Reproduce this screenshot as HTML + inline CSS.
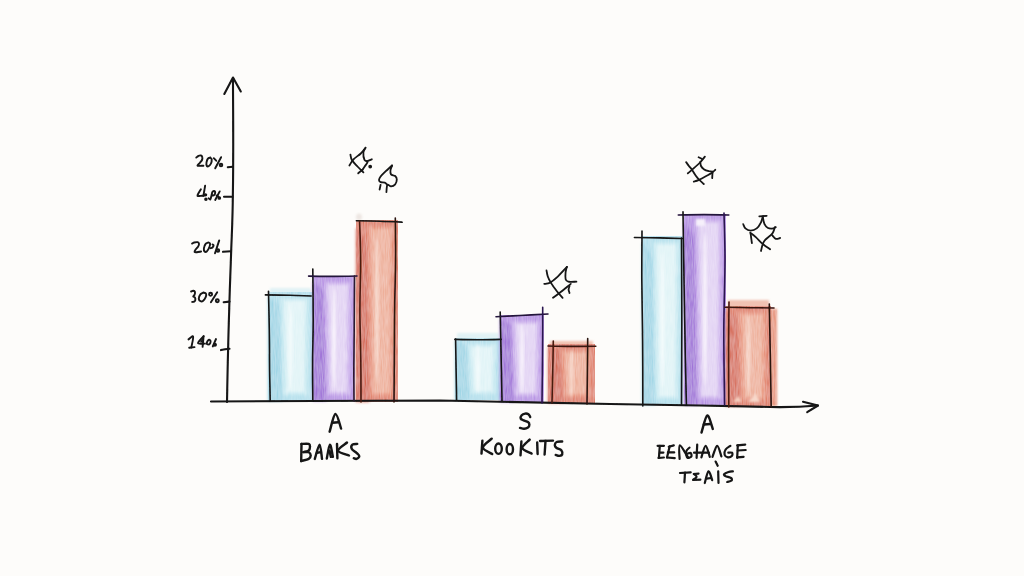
<!DOCTYPE html>
<html><head><meta charset="utf-8">
<style>
html,body{margin:0;padding:0;background:#fdfcfa;}
svg{display:block;}
</style></head>
<body>
<svg width="1024" height="576" viewBox="0 0 1024 576">
<defs>
  <filter id="soft" x="-20%" y="-20%" width="140%" height="140%"><feGaussianBlur stdDeviation="1.0"/></filter>
  <filter id="soft2" x="-50%" y="-10%" width="200%" height="120%"><feGaussianBlur stdDeviation="2.5"/></filter>
  <filter id="soft15" x="-30%" y="-10%" width="160%" height="120%"><feGaussianBlur stdDeviation="1.6"/></filter>
  <filter id="tex" x="-5%" y="-5%" width="110%" height="110%">
    <feTurbulence type="fractalNoise" baseFrequency="0.9 0.08" numOctaves="2" seed="3" result="n"/>
    <feColorMatrix in="n" type="matrix" values="0 0 0 0 1  0 0 0 0 1  0 0 0 0 1  0 0 0 0.35 0" result="nw"/>
    <feComposite in="nw" in2="SourceAlpha" operator="in" result="nm"/>
    <feMerge><feMergeNode in="SourceGraphic"/><feMergeNode in="nm"/></feMerge>
    <feGaussianBlur stdDeviation="0.5"/>
  </filter>
  <filter id="inkblur" x="-10%" y="-10%" width="120%" height="120%"><feGaussianBlur stdDeviation="0.35"/></filter>
</defs>
<rect width="1024" height="576" fill="#fdfcfa"/>

<g id="fills">
<rect x="270.0" y="288.0" width="41.0" height="8.0" fill="#c6e9f1" opacity="0.5" filter="url(#soft)"/>
<g filter="url(#tex)">
<rect x="268.0" y="292.0" width="45.0" height="109.0" fill="#aadcea"/>
<polygon points="268.0,296.4 279.7,305.1 282.4,401.0 268.0,401.0" fill="#98d3e4" filter="url(#soft15)"/>
<polygon points="280.6,298.0 308.5,298.0 307.6,395.0 283.3,395.0" fill="#c6e9f1" filter="url(#soft15)"/>
<polygon points="284.2,301.0 304.9,301.0 304.0,392.0 286.9,392.0" fill="#def3f6" filter="url(#soft)"/>
<ellipse cx="290.5" cy="346.5" rx="2.0" ry="43.6" fill="#eff9fa" filter="url(#soft)"/>
</g>
<g filter="url(#tex)">
<rect x="313.0" y="276.0" width="42.0" height="125.0" fill="#b085e1"/>
<polygon points="313.0,281.0 323.9,291.0 326.4,401.0 313.0,401.0" fill="#9864d5" filter="url(#soft15)"/>
<polygon points="324.8,282.0 350.8,282.0 350.0,395.0 327.3,395.0" fill="#cbaeec" filter="url(#soft15)"/>
<polygon points="328.1,285.0 347.4,285.0 346.6,392.0 330.6,392.0" fill="#e0cff3" filter="url(#soft)"/>
<ellipse cx="334.0" cy="338.5" rx="2.0" ry="50.0" fill="#f4ecfa" filter="url(#soft)"/>
</g>
<g filter="url(#tex)">
<rect x="356.0" y="220.0" width="42.0" height="182.0" fill="#dc6a4b"/>
<polygon points="356.0,227.3 366.9,241.8 369.4,402.0 356.0,402.0" fill="#d45a3c" filter="url(#soft15)"/>
<polygon points="367.8,226.0 393.8,226.0 393.0,396.0 370.3,396.0" fill="#e68a6c" filter="url(#soft15)"/>
<polygon points="371.1,229.0 390.4,229.0 389.6,393.0 373.6,393.0" fill="#eda88f" filter="url(#soft)"/>
<ellipse cx="377.0" cy="311.0" rx="2.0" ry="72.8" fill="#f5cdbd" filter="url(#soft)"/>
</g>
<rect x="457.0" y="333.0" width="42.0" height="9.0" fill="#c6e9f1" opacity="0.5" filter="url(#soft)"/>
<g filter="url(#tex)">
<rect x="455.0" y="338.0" width="46.0" height="62.0" fill="#aadcea"/>
<polygon points="455.0,340.5 467.0,345.4 469.7,400.0 455.0,400.0" fill="#98d3e4" filter="url(#soft15)"/>
<polygon points="467.9,344.0 496.4,344.0 495.5,394.0 470.6,394.0" fill="#c6e9f1" filter="url(#soft15)"/>
<polygon points="471.6,347.0 492.7,347.0 491.8,391.0 474.3,391.0" fill="#def3f6" filter="url(#soft)"/>
<ellipse cx="478.0" cy="369.0" rx="2.0" ry="24.8" fill="#eff9fa" filter="url(#soft)"/>
</g>
<g filter="url(#tex)">
<rect x="500.0" y="315.0" width="44.0" height="87.0" fill="#b085e1"/>
<polygon points="500.0,318.5 511.4,325.4 514.1,402.0 500.0,402.0" fill="#9864d5" filter="url(#soft15)"/>
<polygon points="512.3,321.0 539.6,321.0 538.7,396.0 515.0,396.0" fill="#cbaeec" filter="url(#soft15)"/>
<polygon points="515.8,324.0 536.1,324.0 535.2,393.0 518.5,393.0" fill="#e0cff3" filter="url(#soft)"/>
<ellipse cx="522.0" cy="358.5" rx="2.0" ry="34.8" fill="#f4ecfa" filter="url(#soft)"/>
</g>
<rect x="550.0" y="341.0" width="43.0" height="7.0" fill="#e68a6c" opacity="0.5" filter="url(#soft)"/>
<g filter="url(#tex)">
<rect x="548.0" y="344.0" width="47.0" height="59.0" fill="#dc6a4b"/>
<polygon points="548.0,346.4 560.2,351.1 563.0,403.0 548.0,403.0" fill="#d45a3c" filter="url(#soft15)"/>
<polygon points="561.2,350.0 590.3,350.0 589.4,397.0 564.0,397.0" fill="#e68a6c" filter="url(#soft15)"/>
<polygon points="564.9,353.0 586.5,353.0 585.6,394.0 567.7,394.0" fill="#eda88f" filter="url(#soft)"/>
<ellipse cx="571.5" cy="373.5" rx="2.0" ry="23.6" fill="#f5cdbd" filter="url(#soft)"/>
</g>
<g filter="url(#tex)">
<rect x="642.0" y="236.0" width="41.0" height="169.0" fill="#aadcea"/>
<polygon points="642.0,242.8 652.7,256.3 655.1,405.0 642.0,405.0" fill="#98d3e4" filter="url(#soft15)"/>
<polygon points="653.5,242.0 678.9,242.0 678.1,399.0 655.9,399.0" fill="#c6e9f1" filter="url(#soft15)"/>
<polygon points="656.8,245.0 675.6,245.0 674.8,396.0 659.2,396.0" fill="#def3f6" filter="url(#soft)"/>
<ellipse cx="662.5" cy="320.5" rx="2.0" ry="67.6" fill="#eff9fa" filter="url(#soft)"/>
</g>
<g filter="url(#tex)">
<rect x="684.0" y="214.0" width="42.0" height="191.0" fill="#b085e1"/>
<polygon points="684.0,221.6 694.9,236.9 697.4,405.0 684.0,405.0" fill="#9864d5" filter="url(#soft15)"/>
<polygon points="695.8,220.0 721.8,220.0 721.0,399.0 698.3,399.0" fill="#cbaeec" filter="url(#soft15)"/>
<polygon points="699.1,223.0 718.4,223.0 717.6,396.0 701.6,396.0" fill="#e0cff3" filter="url(#soft)"/>
<ellipse cx="705.0" cy="309.5" rx="2.0" ry="76.4" fill="#f4ecfa" filter="url(#soft)"/>
</g>
<rect x="728.0" y="300.0" width="41.0" height="10.0" fill="#e68a6c" opacity="0.5" filter="url(#soft)"/>
<g filter="url(#tex)">
<rect x="767.0" y="309.0" width="10.0" height="97.0" fill="#e68a6c" filter="url(#soft)"/>
<rect x="726.0" y="306.0" width="45.0" height="100.0" fill="#dc6a4b"/>
<polygon points="726.0,310.0 737.7,318.0 740.4,406.0 726.0,406.0" fill="#d45a3c" filter="url(#soft15)"/>
<polygon points="738.6,312.0 766.5,312.0 765.6,400.0 741.3,400.0" fill="#e68a6c" filter="url(#soft15)"/>
<polygon points="742.2,315.0 762.9,315.0 762.0,397.0 744.9,397.0" fill="#eda88f" filter="url(#soft)"/>
<ellipse cx="748.5" cy="356.0" rx="2.0" ry="40.0" fill="#f5cdbd" filter="url(#soft)"/>
</g>
<rect x="696" y="219" width="9" height="7" fill="#f6f0fb" filter="url(#soft)"/>
<polygon points="748,402 756,393 760,402" fill="#f7d8ca" filter="url(#soft)"/>
<polygon points="733,402 738,396 742,402" fill="#f5cfbf" filter="url(#soft)"/>
<ellipse cx="359" cy="217" rx="3" ry="3.5" fill="#d0c0b8" opacity="0.35" filter="url(#soft)"/>
</g>
<g fill="none" stroke="#141414" stroke-width="2.1" stroke-linecap="round" stroke-linejoin="round" filter="url(#inkblur)">
<path d="M227,402 C228,340 230,280 232,230 S233,120 233,78"/>
<path d="M224.3,94 L233,77.5 L240.8,91.5"/>
<path d="M211,401.5 L440,400.5 L610,404 L700,405.5 L770,407 Q795,407.5 818,405.5"/>
<path d="M803,401.8 L818,405.5 L807.2,412.2"/>
<path d="M227.8,167.2 L232.5,166.7"/>
<path d="M224,196.8 L232.5,196.8"/>
<path d="M223,251.8 L231,251.2"/>
<path d="M223.7,302.2 L229.5,301.6"/>
<path d="M221,350.1 Q225,349 229.5,348.8"/>
</g>
<g fill="none" stroke="#141414" stroke-width="1.6" stroke-linecap="round" stroke-linejoin="round" filter="url(#inkblur)">
<path d="M265.4,294.9 C269.5,295.0 282.4,295.1 290.0,295.3 C297.6,295.5 307.7,295.9 311.2,296.0"/>
<path d="M268.5,291.2 C268.6,297.7 269.1,316.9 269.3,330.0 C269.5,343.1 269.5,358.2 269.6,370.0 C269.8,381.8 270.1,395.8 270.2,401.0"/>
<path d="M312.8,269.0 C312.9,277.5 313.2,304.8 313.2,320.0 C313.2,335.2 312.7,346.5 312.6,360.0 C312.5,373.5 312.8,394.2 312.8,401.0"/>
<path d="M308.6,276.1 C312.2,276.2 321.9,276.4 330.0,276.4 C338.1,276.4 352.5,276.1 357.0,276.0" stroke="#24123a"/>
<path d="M354.5,276.0 C354.4,285.0 354.3,314.3 354.2,330.0 C354.1,345.7 353.8,358.2 353.8,370.0 C353.8,381.8 354.0,395.8 354.0,401.0" stroke="#2a1a30"/>
<path d="M356.4,220.8 C360.3,220.9 372.4,221.0 380.0,221.2 C387.6,221.4 398.5,222.0 402.2,222.2"/>
<path d="M359.6,221.0 C359.8,227.5 360.6,245.2 360.6,260.0 C360.7,274.8 359.9,293.3 359.9,310.0 C359.9,326.7 360.6,344.7 360.8,360.0 C361.0,375.3 361.0,395.0 361.0,402.0" stroke="#4a1a10"/>
<path d="M395.3,218.0 C395.4,225.0 395.7,244.7 395.6,260.0 C395.5,275.3 394.8,293.3 394.6,310.0 C394.4,326.7 394.4,344.7 394.3,360.0 C394.2,375.3 394.1,395.0 394.0,402.0" stroke="#2a1410"/>
<path d="M454.9,339.4 C458.8,339.5 470.3,339.8 478.0,339.8 C485.7,339.8 497.4,339.5 501.2,339.4"/>
<path d="M455.6,339.0 C455.7,344.2 455.9,359.8 456.1,370.0 C456.3,380.2 456.5,395.0 456.6,400.0"/>
<path d="M500.2,312.0 C500.4,320.0 500.9,345.2 501.2,360.0 C501.5,374.8 501.9,394.2 502.0,401.0"/>
<path d="M496.0,316.7 C500.0,316.5 511.3,315.9 520.0,315.5 C528.7,315.1 543.3,314.2 548.0,314.0" stroke="#24123a"/>
<path d="M542.7,307.3 C542.7,314.4 542.7,334.1 542.6,350.0 C542.5,365.9 542.1,394.2 542.0,403.0" stroke="#2a1450"/>
<path d="M548.0,346.0 C552.0,346.1 564.0,346.4 572.0,346.4 C580.0,346.4 591.8,346.2 595.8,346.2" stroke="#3a1510"/>
<path d="M553.3,341.0 C553.2,345.8 553.0,359.7 552.8,370.0 C552.6,380.3 552.1,397.5 552.0,403.0" stroke="#4a1a10"/>
<path d="M587.7,338.5 C587.7,343.8 587.5,359.1 587.4,370.0 C587.3,380.9 587.1,398.3 587.0,404.0" stroke="#2a1410"/>
<path d="M634.4,237.5 C638.7,237.6 652.0,237.7 660.0,237.9 C668.0,238.1 678.7,238.4 682.4,238.5"/>
<path d="M642.0,231.0 C642.0,239.2 641.7,261.8 641.8,280.0 C641.9,298.2 642.4,319.0 642.6,340.0 C642.8,361.0 642.8,395.0 642.8,406.0"/>
<path d="M681.5,238.0 C681.5,251.7 681.8,292.2 681.8,320.0 C681.8,347.8 681.5,390.8 681.5,405.0"/>
<path d="M678.3,215.0 C682.6,214.9 695.6,214.6 704.0,214.6 C712.4,214.6 724.6,214.9 728.8,215.0" stroke="#24123a"/>
<path d="M683.0,211.7 C683.2,223.1 683.6,256.9 684.0,280.0 C684.4,303.1 684.8,329.2 685.2,350.0 C685.6,370.8 686.2,395.8 686.4,405.0"/>
<path d="M724.0,213.0 C724.2,220.8 725.0,240.5 725.0,260.0 C725.0,279.5 723.9,305.8 723.8,330.0 C723.7,354.2 724.5,392.5 724.6,405.0" stroke="#2a1450"/>
<path d="M725.0,307.3 C729.2,307.4 741.8,307.6 750.0,307.7 C758.2,307.8 770.0,307.9 774.0,308.0" stroke="#3a1510"/>
<path d="M729.0,302.0 C728.9,310.0 728.6,332.5 728.6,350.0 C728.6,367.5 728.8,397.5 728.8,407.0" stroke="#4a1a10"/>
<path d="M769.3,304.0 C769.4,311.7 769.9,332.8 770.2,350.0 C770.5,367.2 771.0,397.5 771.2,407.0" stroke="#2a1410"/>
</g>
<g fill="none" stroke="#141414" stroke-width="1.9" stroke-linecap="round" stroke-linejoin="round" filter="url(#inkblur)">
<path d="M196.3,157.6 C196.7,157.3 197.7,156.2 198.5,155.8 C199.3,155.5 200.3,155.3 200.9,155.5 C201.5,155.7 202.1,156.4 202.3,157.2 C202.5,157.9 202.4,159.1 202.0,160.0 C201.6,160.9 200.7,161.9 199.9,162.8 C199.2,163.7 197.6,165.0 197.5,165.5 C197.4,166.0 198.6,165.9 199.6,165.9 C200.6,165.9 202.8,165.7 203.4,165.7"/>
<path d="M210.3,157.6 C209.9,157.8 208.5,157.8 207.9,158.6 C207.3,159.4 206.7,161.2 206.5,162.4 C206.3,163.6 206.5,165.3 206.8,165.9 C207.2,166.5 207.9,166.6 208.6,166.2 C209.3,165.8 210.5,164.7 211.0,163.5 C211.5,162.3 211.8,160.3 211.7,159.3 C211.6,158.3 210.5,157.9 210.3,157.6"/>
<path d="M221.1,157.2 L215.2,168.3"/>
<path d="M213.8,158.2 L216.2,160.7"/>
<circle cx="221.0" cy="165.0" r="1.3"/>
<path d="M200.9,189.3 C200.3,190.3 197.6,194.4 197.5,195.5 C197.4,196.6 199.4,195.9 200.6,195.9 C201.8,195.9 203.8,195.6 204.4,195.5"/>
<path d="M205.1,185.8 L203.4,195.9"/>
<circle cx="205.6" cy="194.8" r="0.7" fill="#141414"/>
<circle cx="205.9" cy="199.3" r="0.8" fill="#141414"/>
<path d="M208.6,198.3 C208.9,198.5 209.8,199.8 210.3,199.4 C210.8,199.0 211.1,197.1 211.4,195.9 C211.8,194.7 212.0,192.8 212.4,192.0 C212.8,191.2 213.6,190.9 214.1,191.0 C214.6,191.1 215.2,191.7 215.2,192.4 C215.2,193.1 214.6,194.7 214.1,195.2 C213.6,195.7 212.7,195.4 212.4,195.5"/>
<path d="M219.7,191.4 L215.2,200.0"/>
<path d="M216.6,195.5 L218.3,196.6"/>
<circle cx="219.3" cy="198.0" r="0.9" fill="#141414"/>
<path d="M192.1,243.6 C192.4,243.4 193.3,242.7 194.2,242.5 C195.1,242.3 196.8,242.0 197.6,242.2 C198.4,242.4 198.9,243.2 199.0,243.9 C199.1,244.7 198.6,245.8 198.0,246.7 C197.4,247.6 196.2,248.6 195.6,249.5 C195.0,250.4 194.3,251.5 194.5,251.9 C194.7,252.3 195.8,252.3 196.9,252.2 C198.0,252.1 200.4,251.6 201.1,251.5"/>
<path d="M208.4,242.5 C207.9,242.7 206.3,242.9 205.6,243.9 C204.8,244.9 204.1,247.1 203.9,248.4 C203.7,249.7 204.1,251.0 204.6,251.5 C205.1,252.0 206.2,251.9 207.0,251.2 C207.8,250.4 208.9,248.3 209.4,247.0 C209.9,245.7 210.3,244.3 210.1,243.6 C209.9,242.8 208.7,242.7 208.4,242.5"/>
<path d="M219.2,240.4 L215.0,253.3"/>
<path d="M210.4,248.2 C210.8,248.1 212.0,248.0 212.5,247.5 C213.0,247.0 213.6,245.8 213.6,245.3 C213.6,244.8 212.7,244.6 212.5,244.4"/>
<circle cx="217.9" cy="250.5" r="1.3"/>
<path d="M191.1,291.5 C191.4,291.4 192.6,290.7 193.2,290.8 C193.8,290.9 194.7,291.3 194.9,291.9 C195.1,292.5 194.9,293.9 194.6,294.6 C194.3,295.4 193.1,295.9 193.2,296.4 C193.2,296.9 194.6,296.8 194.9,297.4 C195.2,298.0 195.4,299.5 195.3,300.2 C195.2,300.9 194.8,301.3 194.2,301.6 C193.7,301.9 192.5,301.8 192.2,301.9"/>
<path d="M203.3,292.6 C202.8,292.9 200.9,293.6 200.2,294.6 C199.4,295.6 198.8,297.7 198.8,298.8 C198.9,299.9 199.8,300.9 200.5,301.2 C201.2,301.5 202.0,301.6 202.9,300.9 C203.8,300.2 205.2,298.3 205.7,297.1 C206.2,295.9 206.4,294.4 206.0,293.6 C205.6,292.9 203.8,292.8 203.3,292.6"/>
<circle cx="210.6" cy="294.3" r="1.5"/>
<path d="M217.2,292.2 L210.9,302.3"/>
<circle cx="217.3" cy="300.8" r="1.5"/>
<path d="M188.5,339.4 C189.3,338.9 192.6,335.2 193.1,336.6 C193.6,338.0 191.6,345.7 191.3,347.5"/>
<path d="M189.2,347.8 L194.5,347.1"/>
<path d="M203.6,336.2 C202.7,337.4 197.8,342.0 198.0,343.2 C198.2,344.5 203.6,343.5 204.7,343.6"/>
<path d="M203.6,336.2 L202.6,346.8"/>
<path d="M203,338 L199.5,342.5 L202.8,342.8 Z" fill="#141414" stroke="none"/>
<path d="M216.0,339.0 L212.8,346.4"/>
<path d="M206.3,343.8 C206.6,343.3 207.4,341.2 207.9,340.6 C208.4,340.0 209.2,339.7 209.6,339.9 C210.0,340.1 210.6,340.9 210.6,341.6 C210.6,342.3 210.1,343.7 209.6,344.2 C209.1,344.7 208.1,344.4 207.8,344.4"/>
<circle cx="214.9" cy="344.7" r="1.1"/>
</g>
<g fill="none" stroke="#141414" stroke-width="2.4" stroke-linecap="round" stroke-linejoin="round" filter="url(#inkblur)">
<path d="M329.6,431.7 C330.6,428.8 333.5,414.5 335.4,414.0 C337.3,413.5 340.2,426.2 341.1,428.6"/>
<path d="M332.2,422.8 L338.2,422.3"/>
<path d="M301.5,443.9 L301.2,461.0"/>
<path d="M301.5,443.9 C302.7,443.9 307.3,443.4 308.7,443.9 C310.1,444.4 310.0,445.7 310.0,446.8 C310.0,447.9 309.6,449.8 308.5,450.7 C307.4,451.6 304.3,451.9 303.5,452.1"/>
<path d="M303.5,452.1 C304.4,452.1 307.5,451.7 308.7,452.3 C309.9,452.9 310.7,454.4 310.7,455.5 C310.7,456.6 310.3,458.0 308.7,458.9 C307.1,459.8 302.4,460.6 301.2,461.0"/>
<path d="M314.8,458.9 C315.6,456.5 318.4,444.6 319.6,444.6 C320.8,444.6 321.6,456.5 322.0,458.9"/>
<path d="M316.9,452.8 L321.0,452.1"/>
<path d="M326.8,458.6 C327.3,456.3 328.9,444.9 329.9,444.6 C330.9,444.3 332.4,454.8 332.9,456.9"/>
<path d="M330.9,456.9 L329.5,450.7"/>
<path d="M337.0,443.9 L337.4,458.2"/>
<path d="M347.0,442.5 C345.5,443.9 337.8,448.5 338.1,450.7 C338.4,452.9 347.2,454.7 349.0,455.5"/>
<path d="M357.2,443.9 C356.4,444.0 353.3,443.8 352.4,444.6 C351.5,445.4 351.0,447.3 351.7,448.7 C352.4,450.1 355.2,451.6 356.5,452.8 C357.8,454.1 359.3,455.2 359.3,456.2 C359.3,457.2 357.4,458.6 356.5,458.9 C355.6,459.2 354.2,458.3 353.8,458.2"/>
<path d="M530.2,417.0 C529.9,416.6 529.4,414.9 528.5,414.3 C527.6,413.7 526.2,413.4 525.1,413.6 C524.0,413.8 522.4,414.5 521.7,415.3 C521.0,416.1 520.4,417.6 520.7,418.5 C521.0,419.4 522.4,419.8 523.6,420.4 C524.8,421.0 527.0,421.4 528.0,422.1 C529.0,422.8 529.4,423.9 529.4,424.8 C529.4,425.7 528.9,426.8 528.0,427.4 C527.1,428.0 525.4,428.6 524.1,428.7 C522.8,428.8 520.7,428.0 520.0,427.9"/>
<path d="M482.4,440.6 L481.5,453.6"/>
<path d="M491.7,438.7 C490.2,440.2 482.8,444.9 482.9,447.5 C483.0,450.1 490.6,452.9 492.2,454.0"/>
<ellipse cx="498.5" cy="448.7" rx="3.3" ry="5.2"/>
<ellipse cx="509.8" cy="449.2" rx="3.2" ry="5.2"/>
<path d="M521.4,441.5 L520.5,455.4"/>
<path d="M529.7,439.6 C528.5,441.0 522.0,445.7 522.3,448.0 C522.6,450.3 530.0,452.7 531.6,453.6"/>
<path d="M537.2,442.4 L537.6,454.0"/>
<path d="M540.0,441.0 L553.0,440.6"/>
<path d="M545.5,441.0 L544.6,454.5"/>
<path d="M562.2,441.5 C561.3,441.6 557.8,441.4 556.6,442.0 C555.4,442.6 554.8,444.2 554.8,445.2 C554.8,446.2 555.5,447.1 556.6,448.0 C557.7,448.9 560.4,449.2 561.3,450.3 C562.2,451.4 562.5,453.6 562.2,454.5 C561.9,455.4 560.5,455.8 559.4,455.9 C558.3,456.0 556.3,455.1 555.7,454.9"/>
<path d="M701.5,432.5 C702.5,429.7 705.4,416.1 707.3,415.5 C709.2,414.9 711.9,426.8 712.8,429.0"/>
<path d="M703.8,424.5 L710.5,424.0"/>
</g>
<g fill="none" stroke="#141414" stroke-width="2.2" stroke-linecap="round" stroke-linejoin="round" filter="url(#inkblur)">
<path d="M657.6,445.8 L663.9,445.8"/>
<path d="M659.8,445.8 L658.9,458.0"/>
<path d="M660.3,452.6 L663.4,452.6"/>
<path d="M658.5,458.0 L663.9,457.5"/>
<path d="M668.8,446.7 L673.8,445.4"/>
<path d="M669.7,446.3 L667.0,457.5"/>
<path d="M667.9,452.4 L674.2,452.4"/>
<path d="M667.0,457.5 L674.7,458.2"/>
<path d="M679.6,458.9 C679.6,456.6 678.4,445.6 679.8,445.4 C681.2,445.2 686.7,455.5 688.1,457.5"/>
<path d="M689.5,447.6 C689.0,448.2 686.7,449.6 686.3,451.2 C685.9,452.8 686.4,456.6 687.2,457.5 C688.0,458.4 690.7,457.4 691.3,456.6 C691.9,455.9 691.3,453.5 690.8,453.0 C690.3,452.5 688.5,453.4 688.1,453.5"/>
<path d="M697.2,444.7 L696.6,457.9"/>
<path d="M694.0,452.7 L708.8,452.7"/>
<path d="M701.4,457.4 C702.1,455.5 704.2,445.9 705.6,445.8 C707.0,445.7 709.1,455.0 709.8,456.9"/>
<path d="M712.5,456.9 C713.3,455.0 715.7,445.9 717.2,445.8 C718.7,445.7 720.7,454.6 721.4,456.4"/>
<path d="M715.6,461.6 L717.7,465.8"/>
<path d="M730.4,445.8 C729.6,446.4 726.6,448.0 725.6,449.5 C724.6,451.0 724.2,453.5 724.6,454.8 C725.0,456.1 726.5,457.2 727.8,457.4 C729.0,457.6 731.3,456.6 732.0,455.8 C732.7,455.0 732.6,453.2 732.0,452.7 C731.4,452.2 728.9,452.7 728.3,452.7"/>
<path d="M737.2,445.3 L745.2,444.7"/>
<path d="M737.8,445.3 L737.2,457.9"/>
<path d="M737.8,450.5 L745.7,450.0"/>
<path d="M737.2,457.4 L743.6,456.9"/>
<path d="M680.0,473.0 L690.7,472.4"/>
<path d="M685.0,472.7 L684.4,482.4"/>
<path d="M693.8,474.0 L698.5,473.6"/>
<path d="M694.0,474.0 C694.4,474.5 696.7,475.8 696.6,476.8 C696.5,477.8 693.8,479.3 693.2,479.8"/>
<path d="M693.2,480.0 L700.4,479.6"/>
<path d="M704.8,483.0 C705.4,481.1 707.2,471.9 708.5,471.4 C709.8,470.9 711.6,478.7 712.2,480.2"/>
<path d="M706.6,478.6 L711.0,478.0"/>
<path d="M718.2,471.4 L718.5,483.0"/>
<path d="M732.9,471.4 C732.2,471.5 730.0,471.5 728.5,472.0 C727.0,472.5 724.6,473.6 724.1,474.2 C723.6,474.9 724.2,475.5 725.4,476.1 C726.5,476.7 730.0,477.3 731.0,478.0 C732.0,478.7 732.2,479.8 731.6,480.5 C731.0,481.2 728.0,481.8 727.2,482.0"/>
</g>
<g fill="none" stroke="#141414" stroke-width="1.8" stroke-linecap="round" stroke-linejoin="round" filter="url(#inkblur)">
<path d="M350.4,154.6 C350.7,155.6 350.8,158.3 352.0,160.3 C353.2,162.3 355.6,164.5 357.5,166.5 C359.4,168.5 362.4,171.3 363.4,172.3"/>
<path d="M358.2,173.3 L362.4,169.7"/>
<path d="M349.4,165.5 C350.1,164.5 351.6,161.3 353.5,159.3 C355.4,157.3 358.8,155.4 360.8,153.5 C362.8,151.6 364.7,148.8 365.5,147.8"/>
<path d="M365.5,147.8 C365.1,148.6 363.6,150.5 363.4,152.5 C363.2,154.5 363.8,158.2 364.5,159.8 C365.2,161.4 367.5,160.9 367.6,161.9 C367.7,162.9 365.9,164.5 365.0,166.0 C364.1,167.5 362.4,169.9 361.9,170.7"/>
<path d="M366.6,161.4 L371.8,159.3"/>
<circle cx="370.2" cy="166.6" r="1.0" fill="#141414"/>
<path d="M392.1,165.5 C391.8,166.3 390.7,168.7 390.5,170.2 C390.3,171.7 390.2,173.4 391.0,174.4 C391.8,175.4 394.2,175.1 395.2,176.0 C396.2,176.9 396.8,178.2 396.8,179.6 C396.8,181.0 396.2,183.2 395.2,184.3 C394.2,185.4 392.3,186.3 391.0,186.4 C389.7,186.5 388.2,183.9 387.4,184.8 C386.6,185.8 386.6,190.9 386.4,192.1"/>
<path d="M392.1,165.5 C391.1,166.5 387.7,169.4 385.8,171.2 C383.9,173.1 381.7,175.0 380.6,176.5 C379.5,178.0 379.0,179.2 379.0,180.1 C379.0,181.0 379.6,181.8 380.6,182.2 C381.6,182.6 383.7,182.3 384.8,182.7 C385.9,183.1 387.0,184.5 387.4,184.8"/>
<path d="M380.6,184.8 L379.6,189.5"/>
<path d="M546.5,270.4 C546.7,271.4 547.1,274.5 547.8,276.5 C548.5,278.5 549.3,280.1 550.8,282.6 C552.3,285.1 554.9,288.7 556.9,291.2 C558.9,293.8 561.6,296.7 562.6,297.8"/>
<path d="M544.3,283.9 C545.2,283.7 547.9,283.8 550.0,282.7 C552.1,281.6 554.1,280.0 556.9,277.4 C559.7,274.8 565.2,268.6 566.9,266.9"/>
<path d="M566.9,266.9 C566.7,267.8 565.8,270.1 565.6,272.1 C565.4,274.2 565.2,277.5 565.6,279.1 C566.0,280.7 566.4,281.3 568.2,281.7 C570.0,282.1 575.0,281.7 576.4,281.7"/>
<path d="M553.0,297.8 C554.1,297.0 556.5,295.3 559.5,293.0 C562.5,290.7 568.9,285.4 570.8,283.9"/>
<path d="M569.5,286.0 C569.4,286.6 568.6,288.3 568.6,289.5 C568.6,290.7 569.4,292.4 569.5,293.0"/>
<path d="M686.1,162.2 C686.6,162.8 687.9,164.7 688.9,166.0 C689.9,167.3 690.9,168.2 692.0,169.8 C693.1,171.4 694.6,174.1 695.8,175.7 C697.0,177.3 697.7,178.1 699.0,179.5 C700.3,180.9 703.0,183.2 703.8,184.0"/>
<path d="M687.8,173.3 C688.5,172.7 690.0,171.6 692.0,169.8 C694.0,168.0 697.9,164.7 700.0,162.5 C702.1,160.3 704.1,157.6 704.9,156.6"/>
<path d="M698.6,157.3 L701.7,158.7"/>
<path d="M700.3,161.8 C700.4,162.5 700.4,164.7 701.0,166.0 C701.6,167.3 702.9,168.5 704.2,169.4 C705.5,170.3 707.5,170.8 709.0,171.2 C710.5,171.5 712.2,171.7 713.2,171.5 C714.2,171.3 714.9,170.1 715.3,169.8"/>
<path d="M693.8,181.6 C694.6,181.3 695.9,181.4 699.0,179.9 C702.1,178.4 710.2,173.8 712.5,172.6"/>
<path d="M712.5,171.9 L712.2,178.1"/>
<path d="M759.3,216.3 L766.7,215.8"/>
<path d="M743.2,224.1 C743.6,224.8 744.2,227.3 745.4,228.4 C746.6,229.5 748.7,230.6 750.6,230.6 C752.5,230.6 755.0,229.8 756.7,228.4 C758.4,227.0 760.0,224.3 761.0,222.3 C762.0,220.3 762.5,217.3 762.8,216.3"/>
<path d="M762.8,217.1 C763.0,218.3 763.6,222.3 764.5,224.1 C765.4,225.9 766.5,227.3 768.0,228.0 C769.5,228.7 771.9,228.6 773.2,228.4 C774.5,228.2 775.4,227.3 775.8,227.1"/>
<path d="M774.9,227.1 C774.5,228.2 773.9,231.5 772.3,233.6 C770.7,235.7 767.0,238.0 765.4,239.7 C763.8,241.4 763.5,242.1 762.8,244.0 C762.0,245.9 761.3,249.8 761.0,251.0"/>
<path d="M750.2,232.8 C751.1,233.5 753.7,235.2 755.8,237.1 C757.9,239.0 760.4,242.0 762.8,244.0 C765.1,246.0 768.9,248.3 770.1,249.2"/>
<path d="M750.6,233.6 L751.9,243.2"/>
<path d="M772.3,235.4 C772.9,236.0 774.5,238.4 775.8,238.8 C777.1,239.2 779.4,238.1 780.1,238.0"/>
</g>
</svg>
</body></html>
